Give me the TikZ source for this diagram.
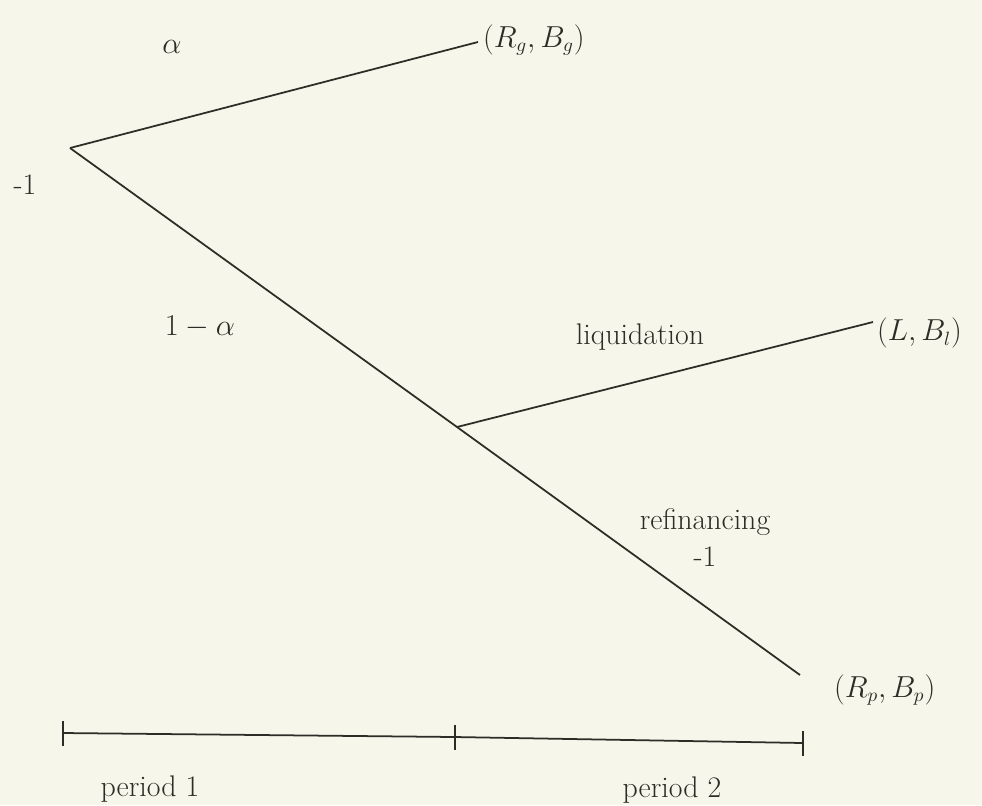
\documentclass[tikz,border=0pt]{standalone}
\usepackage{amsmath}
\usepackage{tikz}
\usetikzlibrary{positioning,calc}
\definecolor{paper}{RGB}{246,247,234}
\definecolor{ink}{RGB}{45,45,40}
\tikzstyle{branch} = [ink, line width=1pt]
\tikzstyle{lbl} = [ink, font=\fontsize{16}{19}\selectfont, inner sep=1pt]
\tikzstyle{word} = [lbl, font=\fontsize{17}{20}\selectfont]
\begin{document}
\begin{tikzpicture}[x=0.02cm, y=-0.02cm]

% Fondo
\fill[paper] (0,0) rectangle (982,805);

% Nodos
\coordinate (root) at (70,148);
\coordinate (split) at (457,427);
\node[lbl, anchor=west] (good) at (481,40) {$(R_g,B_g)$};
\node[lbl, anchor=west] (liq) at (875,333) {$(L,B_l)$};
\node[lbl, anchor=west] (poor) at (832,690) {$(R_p,B_p)$};
\coordinate (goodend) at (478,42);
\coordinate (liqend) at (873,322);
\coordinate (poorend) at (800,675);

% Ramas
\draw[branch] (root) -- (goodend);
\draw[branch] (root) -- (split) -- (poorend);
\draw[branch] (split) -- (liqend);

% Etiquetas
\node[word] (cost) at (25,185) {-1};
\node[lbl] (prob) at (172,47) {$\alpha$};
\node[lbl] (probc) at (200,327) {$1-\alpha$};
\node[word] (liqlbl) at (640,337) {liquidation};
\node[word] (reflbl) at (705,522) {refinancing};
\node[word, below=4pt of reflbl] (refcost) {-1};

% Periodos
\coordinate (t1) at (63,733);
\coordinate (t2) at (455,737);
\coordinate (t3) at (803,743);
\draw[branch] (t1) -- (t2) -- (t3);
\foreach \t in {t1,t2,t3}
  \draw[branch] ($(\t)+(0,-12)$) -- ($(\t)+(0,13)$);
\node[word] (per1) at (150,789) {period 1};
\node[word] (per2) at (672,790) {period 2};

\end{tikzpicture}
\end{document}
